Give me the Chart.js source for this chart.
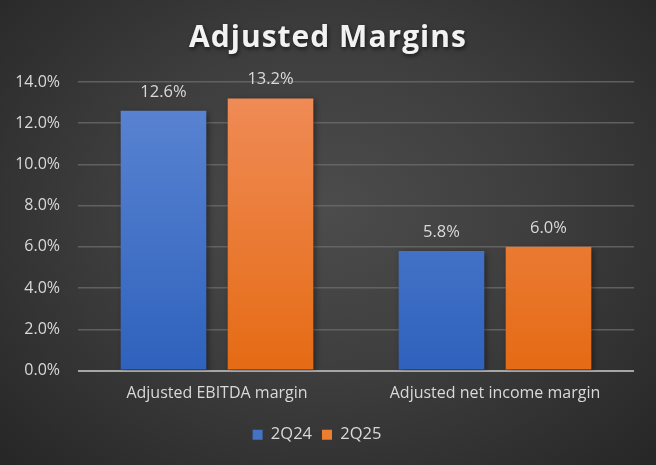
<!DOCTYPE html>
<html>
<head>
<meta charset="utf-8">
<script src="https://cdn.jsdelivr.net/npm/chart.js@4.4.0/dist/chart.umd.min.js"></script>
<style>
  html, body { margin: 0; padding: 0; }
  body { width: 656px; height: 465px; overflow: hidden; }
  #wrap {
    width: 656px; height: 465px; position: relative;
    background: radial-gradient(ellipse at 50% 45%, #4c4c4c 0%, #3e3e3e 45%, #262626 100%);
  }
</style>
</head>
<body>
<div id="wrap"><canvas id="chart" width="656" height="465"></canvas></div>
<script>
// chart data
const categories = ['Adjusted EBITDA margin', 'Adjusted net income margin'];
const seriesNames = ['2Q24', '2Q25'];
const values2Q24 = [12.6, 5.8];
const values2Q25 = [13.2, 6.0];
const yTicks = [0, 2, 4, 6, 8, 10, 12, 14];

const TEXT = '#d9d9d9';
const FONT = 'Open Sans';

function barGradient(ctx, area, top, bottom) {
    if (!area) return top;
    const g = ctx.createLinearGradient(0, area.top, 0, area.bottom);
    g.addColorStop(0, top);
    g.addColorStop(1, bottom);
    return g;
}

const titlePlugin = {
    id: 'bigTitle',
    afterDraw(chart) {
        const ctx = chart.ctx;
        ctx.save();
        ctx.font = 'bold 30px "' + FONT + '"';
        ctx.letterSpacing = '1px';
        ctx.fillStyle = '#f2f2f2';
        ctx.textAlign = 'center';
        ctx.textBaseline = 'middle';
        ctx.shadowColor = 'rgba(0,0,0,0.6)';
        ctx.shadowBlur = 4;
        ctx.shadowOffsetX = 1;
        ctx.shadowOffsetY = 2;
        ctx.fillText('Adjusted Margins', chart.width / 2, 38);
        ctx.restore();
    }
};

const shadowPlugin = {
    id: 'barShadow',
    beforeDatasetsDraw(chart) {
        const ctx = chart.ctx;
        ctx.save();
        ctx.shadowColor = 'rgba(0,0,0,0.45)';
        ctx.shadowBlur = 6;
        ctx.shadowOffsetX = 2;
        ctx.shadowOffsetY = 2;
    },
    afterDatasetsDraw(chart) {
        chart.ctx.restore();
    }
};

const valueLabels = {
    id: 'valueLabels',
    afterDatasetsDraw(chart) {
        const ctx = chart.ctx;
        ctx.save();
        ctx.font = '16.5px "' + FONT + '"';
        ctx.fillStyle = TEXT;
        ctx.textAlign = 'center';
        ctx.textBaseline = 'middle';
        chart.data.datasets.forEach((ds, i) => {
            chart.getDatasetMeta(i).data.forEach((bar, j) => {
                ctx.fillText(ds.data[j].toFixed(1) + '%', bar.x, bar.y - 19);
            });
        });
        ctx.restore();
    }
};

new Chart(document.getElementById('chart'), {
    type: 'bar',
    data: {
        labels: categories,
        datasets: [
            {
                label: seriesNames[0],
                data: values2Q24,
                backgroundColor: c => barGradient(c.chart.ctx, c.chart.chartArea, '#5d86d3', '#2f62bd')
            },
            {
                label: seriesNames[1],
                data: values2Q25,
                backgroundColor: c => barGradient(c.chart.ctx, c.chart.chartArea, '#f08d5a', '#e56b14')
            }
        ]
    },
    options: {
        responsive: false,
        animation: false,
        categoryPercentage: 0.77,
        barPercentage: 0.8,
        layout: { padding: { top: 82, right: 22, left: 0, bottom: 12 } },
        scales: {
            y: {
                min: 0,
                max: 14,
                afterBuildTicks: axis => { axis.ticks = yTicks.map(v => ({ value: v })); },
                afterFit: axis => { axis.width = 78; },
                ticks: {
                    color: TEXT,
                    padding: 18,
                    font: { family: FONT, size: 16 },
                    callback: v => v.toFixed(1) + '%'
                },
                grid: {
                    color: ctx => ctx.tick.value === 0 ? '#a6a6a6' : 'rgba(110,110,110,0.75)',
                    lineWidth: ctx => ctx.tick.value === 0 ? 2 : 1.5,
                    drawTicks: false
                },
                border: { display: false }
            },
            x: {
                afterFit: axis => { axis.height = 46; },
                ticks: {
                    color: TEXT,
                    padding: 13,
                    font: { family: FONT, size: 16 }
                },
                grid: { display: false, drawTicks: false },
                border: { display: false }
            }
        },
        plugins: {
            legend: {
                position: 'bottom',
                labels: {
                    color: TEXT,
                    boxWidth: 10,
                    boxHeight: 10,
                    padding: 10,
                    font: { family: FONT, size: 16.5 },
                    generateLabels: chart => seriesNames.map((name, i) => ({
                        text: name,
                        fillStyle: i === 0 ? '#4472c4' : '#ed7d31',
                        strokeStyle: 'transparent',
                        lineWidth: 0,
                        fontColor: TEXT,
                        datasetIndex: i
                    }))
                }
            },
            tooltip: { enabled: false }
        }
    },
    plugins: [shadowPlugin, valueLabels, titlePlugin]
});
</script>
</body>
</html>
